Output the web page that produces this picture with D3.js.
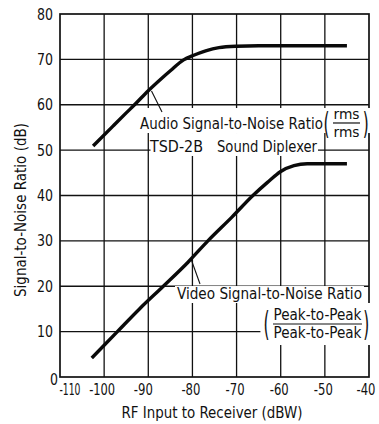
<!DOCTYPE html>
<html>
<head>
<meta charset="utf-8">
<script src="https://cdn.jsdelivr.net/npm/d3@7"></script>
<style>
  html, body { margin: 0; padding: 0; background: #fff; }
  svg { display: block; }
  text { font-family: "DejaVu Sans Condensed", "Liberation Sans Narrow", "Arial Narrow", sans-serif; fill: #111; }
</style>
</head>
<body>
<svg id="chart" width="379" height="424"></svg>
<script>
// ---- data ----
const xTicks = [-110, -100, -90, -80, -70, -60, -50, -40];
const yTicks = [0, 10, 20, 30, 40, 50, 60, 70, 80];
const xTickLabels = ["-110", "-100", "-90", "-80", "-70", "-60", "-50", "-40"];
const yTickLabels = ["0", "10", "20", "30", "40", "50", "60", "70", "80"];

const audioX = [-102.5, -98, -95, -93, -90, -87, -85, -82, -80, -77, -74, -70, -65, -60, -50, -45];
const audioY = [50.9, 55.3, 58.2, 60.1, 63.1, 65.8, 67.5, 69.9, 70.8, 71.9, 72.6, 72.9, 73.0, 73.0, 73.0, 73.0];

const videoX = [-102.8, -97, -92, -86.6, -81, -76.5, -71, -66.3, -63, -60, -57, -54, -50, -45];
const videoY = [4.2, 10.0, 15.0, 20.0, 25.3, 30.0, 35.3, 40.0, 42.9, 45.3, 46.6, 47.0, 47.0, 47.0];

const xTitle = "RF Input to Receiver (dBW)";
const yTitle = "Signal-to-Noise Ratio (dB)";
const audioLabel = ["Audio Signal-to-Noise Ratio", "TSD-2B", "Sound Diplexer", "rms", "rms"];
const videoLabel = ["Video Signal-to-Noise Ratio", "Peak-to-Peak", "Peak-to-Peak"];

// ---- chart ----
const svg = d3.select("#chart");
const x = d3.scaleLinear().domain([-110, -40]).range([60, 369]);
const y = d3.scaleLinear().domain([0, 80]).range([377, 14]);

const ink = "#111";

// grid
const g = svg.append("g");
g.selectAll("line.v").data(xTicks.slice(1, -1)).join("line")
  .attr("x1", d => x(d)).attr("x2", d => x(d))
  .attr("y1", y(80)).attr("y2", y(0))
  .attr("stroke", ink).attr("stroke-width", 1.3);
g.selectAll("line.h").data(yTicks.slice(1, -1)).join("line")
  .attr("x1", x(-110)).attr("x2", x(-40))
  .attr("y1", d => y(d)).attr("y2", d => y(d))
  .attr("stroke", ink).attr("stroke-width", 1.3);
g.append("rect")
  .attr("x", x(-110)).attr("y", y(80))
  .attr("width", x(-40) - x(-110)).attr("height", y(0) - y(80))
  .attr("fill", "none").attr("stroke", ink).attr("stroke-width", 1.7);

// y tick labels
svg.append("g").selectAll("text").data(yTicks).join("text")
  .attr("x", (d) => d === 0 ? x(-110) - 2 : x(-110) - 7)
  .attr("y", (d) => d === 0 ? y(d) + 8 : y(d) + 5.5)
  .attr("text-anchor", "end")
  .attr("font-size", 15)
  .attr("textLength", (d, i) => yTickLabels[i].length * 8)
  .attr("lengthAdjust", "spacingAndGlyphs")
  .text((d, i) => yTickLabels[i]);

// x tick labels (small per-label nudges as in the original lettering)
const xNudge = (d) => d === -110 ? 10 : d === -90 ? -5 : d === -100 ? -2 : d === -40 ? -3 : -1.5;
svg.append("g").selectAll("text").data(xTicks).join("text")
  .attr("x", (d) => x(d) + xNudge(d))
  .attr("y", y(0) + 18)
  .attr("text-anchor", "middle")
  .attr("font-size", 16)
  .attr("textLength", (d) => d === -110 ? 21 : d === -100 ? 26 : 19)
  .attr("lengthAdjust", "spacingAndGlyphs")
  .text((d, i) => xTickLabels[i]);

svg.append("text")
  .attr("x", 212).attr("y", 418)
  .attr("text-anchor", "middle")
  .attr("font-size", 16)
  .attr("textLength", 181).attr("lengthAdjust", "spacingAndGlyphs")
  .text(xTitle);

svg.append("text")
  .attr("transform", `translate(26,${(123 + 297) / 2}) rotate(-90)`)
  .attr("text-anchor", "middle")
  .attr("font-size", 15)
  .attr("textLength", 174).attr("lengthAdjust", "spacingAndGlyphs")
  .text(yTitle);

// white label backgrounds (in data units)
function blank(x0, x1, y0, y1) {
  svg.append("rect")
    .attr("x", x(x0)).attr("y", y(y0))
    .attr("width", x(x1) - x(x0)).attr("height", y(y1) - y(y0))
    .attr("fill", "#fff");
}
blank(-92.33, -39.4, 59.28, 53.77);
blank(-89.5, -51.55, 53.77, 48.71);
blank(-83.95, -41.14, 20.05, 16.31);
blank(-64.6, -39.2, 16.31, 7.05);

// annotations
const ann = svg.append("g");
function label(t, xv, yv, size, len, anchor) {
  return ann.append("text")
    .attr("x", x(xv)).attr("y", y(yv))
    .attr("font-size", size)
    .attr("text-anchor", anchor || "start")
    .attr("textLength", len).attr("lengthAdjust", "spacingAndGlyphs")
    .text(t);
}
function paren(ch, xv, yv, size) {
  return ann.append("text")
    .attr("x", x(xv)).attr("y", y(yv))
    .attr("font-size", size)
    .attr("textLength", 6).attr("lengthAdjust", "spacingAndGlyphs")
    .text(ch);
}
// audio
label(audioLabel[0], -91.88, 54.66, 16, 183);
label(audioLabel[1], -89.61, 49.59, 16, 53);
label(audioLabel[2], -74.43, 49.59, 16, 100);
label(audioLabel[3], -45.10, 56.86, 14, 26, "middle");
label(audioLabel[4], -45.10, 52.89, 14, 26, "middle");
ann.append("line")
  .attr("x1", x(-48.16)).attr("x2", x(-42.04))
  .attr("y1", y(55.98)).attr("y2", y(55.98))
  .attr("stroke", ink).attr("stroke-width", 1.2);
paren("(", -50.3, 53.55, 30);
paren(")", -41.4, 53.55, 30);
ann.append("line")
  .attr("x1", x(-89.27)).attr("y1", y(63.03))
  .attr("x2", x(-86.89)).attr("y2", y(58.40))
  .attr("stroke", ink).attr("stroke-width", 1.1);

// video
label(videoLabel[0], -83.50, 17.19, 16, 185);
label(videoLabel[1], -51.67, 12.56, 16, 88, "middle");
label(videoLabel[2], -51.67, 8.60, 16, 88, "middle");
ann.append("line")
  .attr("x1", x(-61.75)).attr("x2", x(-41.59))
  .attr("y1", y(11.68)).attr("y2", y(11.68))
  .attr("stroke", ink).attr("stroke-width", 1.2);
paren("(", -63.9, 9.04, 34);
paren(")", -41.3, 9.04, 34);
ann.append("line")
  .attr("x1", x(-80.32)).attr("y1", y(26.0))
  .attr("x2", x(-78.28)).attr("y2", y(20.5))
  .attr("stroke", ink).attr("stroke-width", 1.1);

// curves
const line = d3.line().x(d => x(d[0])).y(d => y(d[1])).curve(d3.curveMonotoneX);
svg.append("path")
  .attr("d", line(audioX.map((v, i) => [v, audioY[i]])))
  .attr("fill", "none").attr("stroke", "#0a0a0a").attr("stroke-width", 3.4);
svg.append("path")
  .attr("d", line(videoX.map((v, i) => [v, videoY[i]])))
  .attr("fill", "none").attr("stroke", "#0a0a0a").attr("stroke-width", 3.4);
</script>
</body>
</html>
